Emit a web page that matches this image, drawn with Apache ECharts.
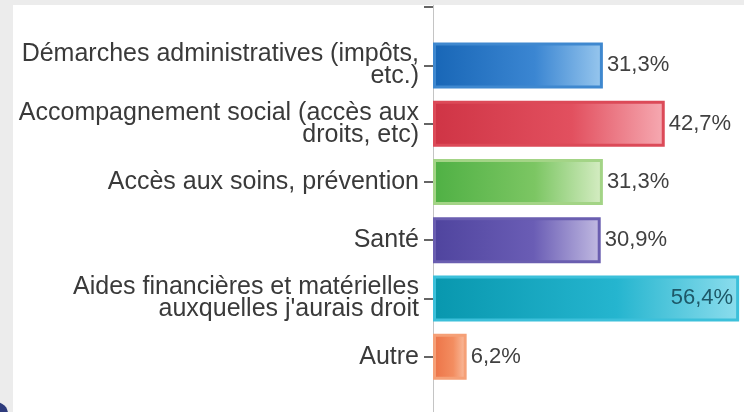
<!DOCTYPE html>
<html>
<head>
  <meta charset="utf-8">
  <title>Besoins d'accompagnement</title>
  <script src="https://cdn.jsdelivr.net/npm/echarts@6/dist/echarts.min.js"></script>
  <style>
    html, body { margin: 0; padding: 0; background: #ffffff; overflow: hidden; width: 744px; height: 412px; }
    /* the chart is taller than the window so the axis runs past the top and bottom bars */
    #chart { position: absolute; left: 0; top: -30px; width: 744px; height: 480px; }
  </style>
</head>
<body>
  <div id="chart"></div>
  <script>
    // categories, top to bottom
    var categories = [
      'Démarches administratives (impôts,\netc.)',
      'Accompagnement social (accès aux\ndroits, etc)',
      'Accès aux soins, prévention',
      'Santé',
      'Aides financières et matérielles\nauxquelles j\'aurais droit',
      'Autre'
    ];
    var values = [31.3, 42.7, 31.3, 30.9, 56.4, 6.2];
    // [border, gradient start (left), gradient middle, gradient end (right)]
    var barColors = [
      ['#3f88cf', '#1866b6', '#3b86d2', '#98c7ee'],
      ['#dc4a58', '#cf3445', '#e2505f', '#f6aab2'],
      ['#a3d486', '#4fb044', '#7cc663', '#d6edc4'],
      ['#6a5eb0', '#4f449e', '#6a5db5', '#c2bbe2'],
      ['#3cc0da', '#0897ae', '#25b5cf', '#8cdded'],
      ['#f5a077', '#ec7246', '#f38d60', '#fac0a2']
    ];

    var chart = echarts.init(document.getElementById('chart'));

    // empty slot above and below the real categories
    var axisData = [''].concat(categories, ['']);
    var seriesData = ['-'];
    values.forEach(function (v, i) {
      var c = barColors[i];
      seriesData.push({
        value: v,
        itemStyle: {
          borderColor: c[0],
          borderWidth: 3,
          color: new echarts.graphic.LinearGradient(0, 0, 1, 0, [
            { offset: 0, color: c[1] },
            { offset: 0.6, color: c[2] },
            { offset: 1, color: c[3] }
          ])
        },
        label: i === 4 ? { position: 'insideRight', color: '#1d5868', distance: 6 } : undefined
      });
    });
    seriesData.push('-');

    var option = {
      backgroundColor: '#ffffff',
      animation: false,
      grid: { left: 433, right: 0, top: 8, height: 466 },
      xAxis: {
        type: 'value',
        min: 0,
        max: 57.3,
        show: false
      },
      yAxis: {
        type: 'category',
        inverse: true,
        data: axisData,
        axisLine: { show: true, lineStyle: { color: '#c4c4c4', width: 1 } },
        axisTick: { show: true, alignWithLabel: true, length: 9, lineStyle: { color: '#333333', width: 1.5 } },
        axisLabel: {
          margin: 14,
          color: '#3a3a3a',
          fontFamily: 'Liberation Sans, Arial, sans-serif',
          fontSize: 25,
          lineHeight: 22,
          align: 'right'
        }
      },
      series: [{
        type: 'bar',
        data: seriesData,
        barWidth: 46,
        label: {
          show: true,
          position: 'right',
          distance: 4,
          color: '#404040',
          fontFamily: 'Liberation Sans, Arial, sans-serif',
          fontSize: 22,
          formatter: function (p) { return String(p.value).replace('.', ',') + '%'; }
        }
      }],
      graphic: [
        { type: 'rect', z: 100, shape: { x: 0, y: 0, width: 744, height: 35 }, style: { fill: '#ececec' } },
        { type: 'rect', z: 100, shape: { x: 0, y: 0, width: 13, height: 480 }, style: { fill: '#ececec' } },
        { type: 'circle', z: 101, shape: { cx: -4, cy: 444, r: 12 }, style: { fill: '#2e3b7c' } }
      ]
    };

    chart.setOption(option);
  </script>
</body>
</html>
